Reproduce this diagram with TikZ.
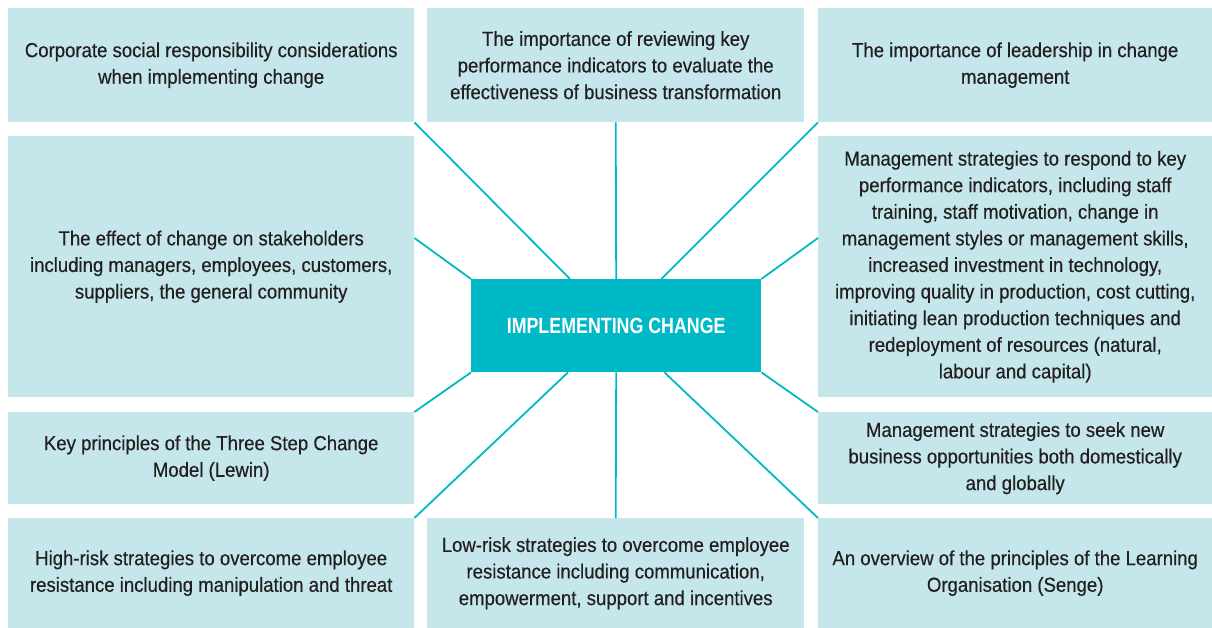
\documentclass[tikz,border=0pt]{standalone}
\usepackage{fontspec}
\setmainfont[FakeStretch=0.915,FakeBold=0.4]{Liberation Sans}
\newfontfamily\hubfont[FakeStretch=0.81]{Liberation Sans}
\definecolor{boxfill}{HTML}{C5E7EC}
\definecolor{teal}{HTML}{00B9C6}
\definecolor{ink}{HTML}{231F20}
\usetikzlibrary{calc}
\tikzset{
  topic/.style={fill=boxfill, anchor=north west, inner sep=0pt, align=center,
    text=ink, font=\fontsize{20.3}{26.6}\selectfont},
  hub/.style={fill=teal, anchor=north west, inner sep=0pt, align=center,
    text=white, font=\hubfont\fontsize{22}{26}\selectfont\bfseries},
  link/.style={draw=teal, line width=1.8pt}
}
\begin{document}
\begin{tikzpicture}[x=1pt,y=-1pt]
\useasboundingbox (0,0) rectangle (1212,628);
% boxes
\node[topic, minimum width=406pt, minimum height=114pt] (tl) at (8,8)
  {Corporate social responsibility considerations\\when implementing change};
\node[topic, minimum width=377pt, minimum height=114pt] (tm) at (427,8)
  {The importance of reviewing key\\performance indicators to evaluate the\\effectiveness of business transformation};
\node[topic, minimum width=394pt, minimum height=114pt] (tr) at (818,8)
  {The importance of leadership in change\\management};
\node[topic, minimum width=406pt, minimum height=261pt] (lm) at (8,136)
  {The effect of change on stakeholders\\including managers, employees, customers,\\suppliers, the general community};
\node[topic, minimum width=394pt, minimum height=261pt] (rm) at (818,136)
  {Management strategies to respond to key\\performance indicators, including staff\\training, staff motivation, change in\\management styles or management skills,\\increased investment in technology,\\improving quality in production, cost cutting,\\initiating lean production techniques and\\redeployment of resources (natural,\\labour and capital)};
\node[topic, minimum width=406pt, minimum height=92pt] (ll) at (8,412)
  {Key principles of the Three Step Change\\Model (Lewin)};
\node[topic, minimum width=394pt, minimum height=92pt] (rl) at (818,412)
  {Management strategies to seek new\\business opportunities both domestically\\and globally};
\node[topic, minimum width=406pt, minimum height=110pt] (bl) at (8,518)
  {High-risk strategies to overcome employee\\resistance including manipulation and threat};
\node[topic, minimum width=377pt, minimum height=110pt] (bm) at (427,518)
  {Low-risk strategies to overcome employee\\resistance including communication,\\empowerment, support and incentives};
\node[topic, minimum width=394pt, minimum height=110pt] (br) at (818,518)
  {An overview of the principles of the Learning\\Organisation (Senge)};
\node[hub, minimum width=290pt, minimum height=93pt] (c) at (471,279)
  {IMPLEMENTING CHANGE};
% connectors
\draw[link] (tl.south east) -- ([xshift=99pt]c.north west);
\draw[link] (tm.south) -- (c.north);
\draw[link] (tr.south west) -- ([xshift=-100pt]c.north east);
\draw[link] ([yshift=-102pt]lm.north east) -- (c.north west);
\draw[link] ([yshift=-102pt]rm.north west) -- (c.north east);
\draw[link] (c.south west) -- (ll.north east);
\draw[link] ([xshift=97pt]c.south west) -- (bl.north east);
\draw[link] (c.south) -- (bm.north);
\draw[link] ([xshift=-97pt]c.south east) -- (br.north west);
\draw[link] (c.south east) -- (rl.north west);
\end{tikzpicture}
\end{document}
